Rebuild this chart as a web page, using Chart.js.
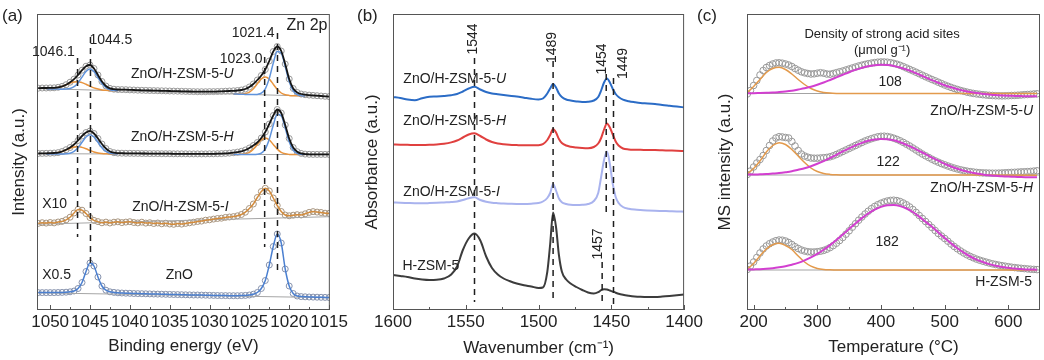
<!DOCTYPE html>
<html>
<head>
<meta charset="utf-8">
<script src="https://cdn.jsdelivr.net/npm/chart.js@4.4.0/dist/chart.umd.min.js"></script>
<style>
  body { margin: 0; background: #fff; width: 1044px; height: 360px; position: relative; overflow: hidden;
         font-family: "Liberation Sans", Arial, sans-serif; }
  canvas { position: absolute; top: 0; }
  .tag { position: absolute; top: 7px; font-size: 17px; line-height: 1; color: #222; }
</style>
</head>
<body>
<canvas id="xps" width="350" height="360" style="left:0"></canvas>
<canvas id="ir" width="360" height="360" style="left:345px"></canvas>
<canvas id="tpd" width="344" height="360" style="left:700px"></canvas>
<div class="tag" style="left:2px">(a)</div>
<div class="tag" style="left:357px">(b)</div>
<div class="tag" style="left:697px">(c)</div>
<script>
// ---------- (a) XPS Zn 2p, stacked spectra (offset intensities) ----------
const bindingEnergy = [
  1051.5, 1051.0, 1050.5, 1050.0, 1049.5, 1049.0, 1048.5, 1048.0, 1047.5, 1047.0,
  1046.5, 1046.0, 1045.5, 1045.0, 1044.5, 1044.0, 1043.5, 1043.0, 1042.5, 1042.0,
  1041.5, 1041.0, 1040.5, 1040.0, 1039.5, 1039.0, 1038.5, 1038.0, 1037.5, 1037.0,
  1036.5, 1036.0, 1035.5, 1035.0, 1034.5, 1034.0, 1033.5, 1033.0, 1032.5, 1032.0,
  1031.5, 1031.0, 1030.5, 1030.0, 1029.5, 1029.0, 1028.5, 1028.0, 1027.5, 1027.0,
  1026.5, 1026.0, 1025.5, 1025.0, 1024.5, 1024.0, 1023.5, 1023.0, 1022.5, 1022.0,
  1021.5, 1021.0, 1020.5, 1020.0, 1019.5, 1019.0, 1018.5, 1018.0, 1017.5, 1017.0,
  1016.5, 1016.0, 1015.5, 1015.0];
const xpsU = [
  221.8, 222.0, 222.0, 222.1, 222.2, 222.7, 223.6, 225.3, 227.8, 230.9,
  235.0, 239.8, 243.8, 245.0, 241.5, 235.0, 228.5, 224.0, 221.6, 220.8,
  220.5, 220.4, 220.3, 220.1, 220.0, 219.8, 219.7, 219.6, 219.5, 219.4,
  219.3, 219.2, 219.1, 219.0, 218.9, 218.8, 218.7, 218.6, 218.5, 218.4,
  218.3, 218.3, 218.3, 218.4, 218.4, 218.5, 218.6, 218.8, 219.0, 219.2,
  219.5, 220.0, 221.0, 223.0, 226.0, 230.0, 234.5, 240.5, 249.0, 258.5,
  263.5, 259.0, 246.0, 231.0, 221.5, 217.5, 216.0, 215.3, 214.9, 214.6,
  214.3, 214.0, 213.7, 213.4];
const xpsH = [
  156.5, 156.6, 156.7, 156.8, 157.0, 157.4, 158.5, 160.3, 162.5, 165.5,
  169.5, 174.0, 177.5, 179.0, 176.5, 171.5, 166.0, 161.5, 158.5, 157.3,
  156.9, 156.8, 156.7, 156.7, 156.6, 156.6, 156.5, 156.5, 156.4, 156.4,
  156.4, 156.3, 156.3, 156.3, 156.2, 156.2, 156.2, 156.2, 156.1, 156.1,
  156.1, 156.1, 156.1, 156.2, 156.2, 156.3, 156.4, 156.6, 156.9, 157.3,
  157.9, 158.7, 160.0, 162.0, 164.5, 167.5, 172.0, 178.0, 186.0, 194.5,
  200.5, 197.0, 185.0, 171.5, 162.5, 158.3, 156.6, 155.9, 155.7, 155.6,
  155.6, 155.6, 155.6, 155.6];
const xpsI = [
  86.6, 87.3, 86.9, 87.5, 87.1, 88.0, 88.6, 90.2, 92.8, 97.0,
  100.6, 99.8, 96.5, 92.4, 89.6, 88.4, 87.2, 87.9, 87.0, 87.8,
  88.2, 87.4, 87.9, 88.3, 87.5, 87.1, 87.8, 86.9, 87.3, 86.5,
  87.0, 86.2, 86.8, 86.0, 85.7, 86.4, 85.9, 86.6, 87.2, 87.8,
  88.5, 88.9, 89.8, 90.2, 90.9, 91.5, 91.8, 92.6, 93.0, 93.4,
  94.2, 95.5, 97.8, 101.5, 106.0, 112.5, 118.5, 121.7, 119.0, 112.0,
  104.5, 98.5, 95.0, 94.2, 94.8, 95.3, 95.0, 96.2, 97.6, 98.4,
  97.9, 97.5, 96.8, 96.6];
const xpsZnO = [
  17.4, 17.4, 17.4, 17.4, 17.4, 17.5, 17.6, 17.8, 18.2, 19.0,
  21.5, 27.5, 38.5, 47.0, 44.0, 33.0, 24.0, 19.8, 18.2, 17.6,
  17.2, 17.0, 16.8, 16.7, 16.5, 16.4, 16.3, 16.2, 16.1, 16.0,
  15.9, 15.8, 15.7, 15.6, 15.5, 15.4, 15.3, 15.2, 15.1, 15.0,
  15.0, 14.9, 14.8, 14.7, 14.6, 14.5, 14.4, 14.4, 14.3, 14.3,
  14.3, 14.4, 14.6, 15.0, 15.8, 17.5, 21.5, 29.5, 45.0, 63.5,
  76.0, 67.0, 41.0, 24.0, 16.5, 14.0, 13.4, 13.2, 13.0, 12.9,
  12.8, 12.7, 12.6, 12.5];

// fitted components (Zn 2p1/2 left, Zn 2p3/2 right)
const compLeftE = [1050.5, 1050.0, 1049.5, 1049.0, 1048.5, 1048.0, 1047.5, 1047.0, 1046.5, 1046.0,
  1045.5, 1045.0, 1044.5, 1044.0, 1043.5, 1043.0, 1042.5, 1042.0, 1041.5];
const uBlueL = [221.2, 221.1, 221.0, 220.9, 220.8, 220.9, 221.5, 223.3, 227.1, 232.9,
  238.6, 241.0, 238.4, 232.5, 226.5, 222.4, 220.3, 219.5, 219.3];
const uOrangeL = [221.3, 221.4, 221.7, 222.4, 223.5, 225.2, 226.9, 228.1, 228.3, 227.4,
  225.7, 223.8, 222.1, 220.9, 220.1, 219.7, 219.5, 219.3, 219.2];
const hBlueL = [156.0, 156.0, 156.0, 156.0, 156.0, 156.2, 156.8, 158.6, 162.3, 167.7,
  173.0, 175.3, 173.0, 167.7, 162.3, 158.6, 156.8, 156.2, 156.0];
const hOrangeL = [156.1, 156.3, 156.6, 157.4, 158.5, 160.1, 161.8, 163.0, 163.4, 162.6,
  161.2, 159.5, 158.0, 157.0, 156.5, 156.2, 156.0, 156.0, 156.0];
const compRightE = [1027.0, 1026.5, 1026.0, 1025.5, 1025.0, 1024.5, 1024.0, 1023.5, 1023.0, 1022.5,
  1022.0, 1021.5, 1021.0, 1020.5, 1020.0, 1019.5, 1019.0, 1018.5, 1018.0];
const uBlueR = [216.0, 215.9, 215.8, 215.6, 215.5, 215.4, 215.6, 216.8, 221.2, 231.6,
  246.9, 258.6, 256.9, 243.4, 228.4, 219.1, 215.4, 214.3, 214.0];
const uOrangeR = [216.0, 215.9, 216.0, 216.5, 217.9, 221.3, 226.2, 231.1, 233.1, 230.9,
  225.8, 220.7, 217.0, 215.3, 214.6, 214.3, 214.2, 214.1, 214.0];
const hBlueR = [155.5, 155.5, 155.5, 155.5, 155.5, 155.5, 155.7, 156.9, 161.0, 170.7,
  184.8, 195.7, 194.3, 182.0, 168.3, 159.8, 156.5, 155.6, 155.4];
const hOrangeR = [155.5, 155.5, 155.7, 156.2, 157.7, 160.9, 165.5, 170.1, 172.1, 170.1,
  165.5, 160.9, 157.7, 156.2, 155.6, 155.4, 155.4, 155.4, 155.4];

// backgrounds
const bgEnds = [1051.65, 1014.9];
const bgU = [221.5, 213.3];
const bgH = [156.3, 155.3];
const bgI = [85.8, 93.3];
const bgZnO = [17.2, 12.3];

// dashed guides at the peak positions
const xpsGuideE = [1046.56, 1044.94, 1023.08, 1021.47];
const xpsGuideTop = [252, 273, 253, 277];
const xpsGuideBottom = [73, 43, 63, 37];
const beMajor = [1050, 1045, 1040, 1035, 1030, 1025, 1020, 1015];
const beMinor = [1047.5, 1042.5, 1037.5, 1032.5, 1027.5, 1022.5, 1017.5];

// ---------- (b) pyridine IR ----------
const wavenumber = [
  1600, 1595, 1590, 1585, 1580, 1575, 1570, 1565, 1560,
  1556, 1552, 1548, 1544, 1540, 1536, 1532, 1528, 1524,
  1520, 1515, 1510, 1505, 1500, 1497, 1494, 1492, 1490,
  1488, 1486, 1484, 1481, 1478, 1474, 1470, 1466, 1462,
  1459, 1457, 1455, 1453, 1451, 1449, 1447, 1445, 1442,
  1438, 1434, 1430, 1425, 1420, 1415, 1410, 1405, 1400];
const irU = [
  213.0, 212.0, 210.5, 209.8, 211.8, 213.2, 213.5, 214.0, 214.8,
  216.0, 218.5, 221.5, 223.3, 220.5, 218.0, 216.5, 215.7, 215.0,
  214.3, 213.4, 212.3, 211.2, 210.6, 211.5, 216.5, 221.5, 226.0,
  222.5, 216.5, 213.0, 210.5, 209.5, 208.6, 208.0, 208.2, 209.5,
  213.0, 219.5, 227.5, 231.5, 227.5, 221.0, 216.0, 213.0, 210.3,
  208.8, 207.8, 207.0, 206.6, 206.0, 205.0, 204.2, 203.4, 202.6];
const irH = [
  165.5, 165.3, 165.2, 165.0, 165.0, 165.2, 165.6, 166.3, 167.6,
  169.5, 172.5, 175.5, 176.7, 174.0, 170.5, 168.0, 166.5, 165.7,
  165.2, 164.9, 164.7, 164.7, 164.8, 165.8, 170.0, 175.0, 181.0,
  177.5, 171.0, 167.0, 164.5, 163.3, 162.5, 162.0, 161.8, 163.0,
  166.5, 172.0, 180.5, 186.5, 182.5, 175.5, 168.5, 164.5, 161.5,
  160.6, 160.3, 160.2, 160.0, 159.9, 159.7, 159.5, 159.3, 159.0];
const irI = [
  107.5, 107.2, 107.0, 106.8, 106.7, 106.9, 107.2, 107.6, 108.0,
  108.6, 110.0, 111.8, 112.7, 110.0, 108.3, 107.3, 106.8, 106.4,
  106.2, 106.0, 106.0, 106.3, 107.0, 108.5, 112.0, 117.0, 126.0,
  119.5, 111.5, 107.8, 106.0, 105.2, 105.0, 105.2, 106.0, 109.0,
  117.0, 133.0, 150.0, 158.5, 146.0, 126.0, 113.0, 107.0, 103.0,
  101.3, 100.4, 99.9, 99.5, 99.2, 99.0, 98.8, 98.6, 98.3];
const irZeo = [
  35.0, 34.0, 33.0, 31.5, 30.5, 30.0, 30.2, 31.5, 35.5,
  43.5, 60.0, 71.5, 76.5, 69.5, 53.5, 42.0, 35.5, 31.5,
  29.0, 26.5, 24.8, 23.5, 22.0, 22.5, 38.0, 66.0, 97.5,
  83.0, 55.0, 38.5, 30.5, 26.5, 23.0, 20.0, 17.5, 16.5,
  17.8, 19.8, 20.8, 20.5, 19.5, 18.5, 17.3, 16.2, 15.2,
  14.3, 13.6, 13.2, 13.0, 13.0, 13.4, 14.0, 14.7, 15.5];
const irGuideW = [1544, 1490, 1453.5, 1448.5, 1456.3];
const irGuideTop = [252, 249, 236, 232, 48];
const irGuideBottom = [8, 9, 95, 2, 8];
const wnMajor = [1600, 1550, 1500, 1450, 1400];
const wnMinor = [1575, 1525, 1475, 1425];

// ---------- (c) NH3-TPD ----------
const temperature = [
  190, 195, 200, 205, 210, 215, 220, 225, 230, 235,
  240, 245, 250, 255, 260, 265, 270, 275, 280, 285,
  290, 295, 300, 305, 310, 315, 320, 325, 330, 335,
  340, 345, 350, 355, 360, 365, 370, 375, 380, 385,
  390, 395, 400, 405, 410, 415, 420, 425, 430, 435,
  440, 445, 450, 455, 460, 465, 470, 475, 480, 485,
  490, 495, 500, 505, 510, 515, 520, 525, 530, 535,
  540, 545, 550, 555, 560, 565, 570, 575, 580, 585,
  590, 595, 600, 605, 610, 615, 620, 625, 630, 635,
  640, 645];
const tpdU = [
  216.0, 219.5, 224.5, 229.5, 235.0, 239.5, 242.5, 244.5, 246.0, 247.0,
  247.2, 246.8, 246.0, 245.0, 243.5, 241.5, 239.8, 238.2, 237.2, 236.5,
  236.0, 236.2, 236.8, 237.3, 236.8, 236.0, 235.8, 236.5, 237.3, 238.2,
  239.0, 240.0, 241.0, 242.0, 243.0, 244.0, 244.8, 245.6, 246.3, 246.9,
  247.4, 247.8, 248.0, 248.0, 247.8, 247.3, 246.6, 245.8, 244.7, 243.4,
  242.0, 240.6, 239.2, 237.8, 236.3, 234.8, 233.3, 231.9, 230.5, 229.2,
  227.8, 226.4, 225.0, 223.8, 222.6, 221.5, 220.5, 219.5, 218.7, 217.9,
  217.2, 216.6, 216.1, 215.7, 215.3, 215.0, 214.7, 214.5, 214.3, 214.2,
  214.1, 214.2, 214.3, 214.5, 214.6, 214.8, 215.0, 215.3, 215.5, 215.7,
  216.0, 216.2];
const tpdH = [
  135.5, 139.0, 143.0, 147.0, 150.5, 154.5, 159.5, 164.5, 169.0, 172.0,
  173.3, 173.0, 172.5, 172.0, 168.5, 164.0, 159.5, 156.0, 154.0, 152.8,
  152.0, 151.8, 151.8, 152.0, 152.3, 152.6, 153.2, 154.2, 155.5, 157.0,
  158.5, 160.0, 161.5, 163.0, 164.5, 166.0, 167.5, 169.0, 170.2, 171.3,
  172.3, 173.2, 173.7, 173.8, 173.5, 172.8, 171.8, 170.6, 169.2, 167.6,
  165.8, 164.0, 162.0, 160.0, 158.0, 156.0, 154.2, 152.5, 150.8, 149.2,
  147.8, 146.4, 145.2, 144.0, 142.9, 141.9, 141.0, 140.2, 139.5, 138.9,
  138.4, 138.0, 137.6, 137.3, 137.1, 137.0, 136.9, 136.8, 136.8, 136.9,
  137.0, 137.2, 137.4, 137.6, 137.7, 137.9, 138.1, 138.2, 138.4, 138.6,
  138.9, 139.2];
const tpdZeo = [
  40.5, 44.0, 48.0, 52.5, 57.0, 61.0, 64.0, 66.3, 68.0, 69.3,
  70.0, 69.8, 69.0, 67.5, 65.5, 63.3, 61.5, 60.0, 59.0, 58.3,
  58.0, 58.0, 58.3, 58.8, 59.6, 60.8, 62.4, 64.4, 66.8, 69.5,
  72.5, 75.8, 79.2, 82.8, 86.3, 89.8, 93.0, 96.0, 98.8, 101.3,
  103.5, 105.3, 106.8, 108.0, 109.0, 109.6, 109.8, 109.4, 108.5, 107.0,
  105.2, 103.0, 100.5, 97.6, 94.5, 91.5, 88.5, 85.5, 82.5, 79.5,
  76.5, 74.0, 71.5, 68.8, 66.0, 63.5, 61.2, 59.0, 57.0, 55.2,
  53.6, 52.2, 50.9, 49.8, 48.8, 47.9, 47.0, 46.2, 45.5, 44.9,
  44.3, 43.8, 43.3, 42.8, 42.4, 42.0, 41.7, 41.4, 41.1, 40.8,
  40.6, 40.4];

// strong-acid (high temperature) fit
const highT = [190, 200, 210, 220, 230, 240, 250, 260, 270, 280,
  290, 300, 310, 320, 330, 340, 350, 360, 370, 380,
  390, 400, 410, 420, 430, 440, 450, 460, 470, 480,
  490, 500, 510, 520, 530, 540, 550, 560, 570, 580,
  590, 600, 610, 620, 630, 640, 645];
const highU = [216.8, 216.8, 217.0, 217.2, 217.4, 217.9, 218.5, 219.3, 220.5, 221.7,
  223.3, 225.3, 227.5, 230.0, 232.6, 235.2, 237.8, 240.1, 242.1, 243.8,
  244.8, 245.2, 245.0, 244.1, 242.5, 240.5, 238.1, 235.4, 232.7, 229.9,
  227.3, 224.8, 222.7, 220.8, 219.2, 217.9, 216.9, 216.1, 215.4, 215.0,
  214.6, 214.3, 214.1, 213.9, 213.7, 213.7, 213.6];
const highH = [135.5, 135.5, 135.7, 135.9, 136.4, 136.9, 137.7, 138.7, 140.2, 141.7,
  143.8, 146.2, 148.9, 152.0, 155.2, 158.6, 161.7, 164.6, 167.1, 169.2,
  170.5, 171.1, 170.7, 169.7, 167.8, 165.2, 162.4, 159.1, 155.8, 152.3,
  149.3, 146.1, 143.5, 141.2, 139.2, 137.7, 136.4, 135.5, 134.7, 134.2,
  133.7, 133.4, 133.2, 132.9, 132.8, 132.7, 132.7];
const highZeo = [40.4, 40.6, 40.8, 41.2, 41.8, 42.7, 43.8, 45.3, 47.1, 49.6,
  52.6, 56.1, 60.2, 64.9, 70.0, 75.4, 81.0, 86.6, 91.9, 96.5,
  100.3, 103.1, 104.7, 104.9, 103.9, 101.5, 98.0, 93.4, 88.2, 83.3,
  77.6, 72.0, 66.6, 61.7, 57.3, 53.5, 50.4, 48.0, 45.9, 44.3,
  43.1, 42.2, 41.4, 41.0, 40.6, 40.4, 40.3];
// weak-acid (low temperature) fit
const lowT = [190, 200, 210, 220, 230, 240, 250, 260, 270, 280,
  290, 300, 310, 320, 330, 340, 350, 360, 370, 380, 645];
const lowU = [217.3, 223.5, 230.5, 237.5, 241.5, 242.7, 240.5, 236.0, 230.5, 225.5,
  221.5, 219.0, 217.6, 216.9, 216.6, 216.5, 216.5, 216.5, 216.5, 216.5, 216.5];
const lowH = [136.2, 141.5, 149.0, 158.0, 164.5, 167.3, 165.5, 160.5, 154.0, 147.5,
  142.0, 138.5, 136.5, 135.6, 135.2, 135.0, 135.0, 135.0, 135.0, 135.0, 134.8];
const lowZeo = [41.0, 46.5, 54.0, 61.0, 65.3, 66.7, 64.5, 60.5, 54.0, 48.0,
  43.8, 41.6, 40.6, 40.2, 40.0, 40.0, 40.0, 40.0, 40.0, 40.0, 40.0];
const baseT = [189.6, 649.7];
const baseU = [216.5, 216.5];
const baseH = [135.0, 135.0];
const baseZeo = [40.0, 40.0];
const tMajor = [200, 300, 400, 500, 600];
const tMinor = [250, 350, 450, 550];

// ---------- helpers ----------
const FAMILY = '"Liberation Sans", Arial, Helvetica, sans-serif';
Chart.defaults.font.family = FAMILY;
Chart.defaults.color = '#222';

const xy = (xs, ys) => xs.map((x, i) => ({x: x, y: ys[i]}));

function rings(xs, ys, color, r) {
  return {data: xy(xs, ys), showLine: false, pointRadius: r, pointBorderWidth: 1,
    pointBorderColor: color, pointBackgroundColor: 'rgba(255,255,255,0)', order: 9};
}
function trace(xs, ys, color, width, order) {
  return {data: xy(xs, ys), borderColor: color, borderWidth: width, pointRadius: 0,
    cubicInterpolationMode: 'monotone', fill: false, order: order};
}
function guides(xs, tops, bottoms) {
  return xs.map((x, i) => ({data: [{x: x, y: tops[i]}, {x: x, y: bottoms[i]}],
    borderColor: '#1e1e1e', borderWidth: 1.5, borderDash: [6, 5], pointRadius: 0, order: -1}));
}

// frame, inward ticks and text notes
function decor(spec) {
  return {
    id: 'decor',
    afterDatasetsDraw(chart) {
      const ctx = chart.ctx, a = chart.chartArea, sx = chart.scales.x, sy = chart.scales.y;
      ctx.save();
      ctx.strokeStyle = '#555';
      ctx.lineWidth = 1;
      ctx.strokeRect(a.left + 0.5, a.top + 0.5, a.right - a.left - 1, a.bottom - a.top - 1);
      ctx.beginPath();
      spec.major.forEach(v => {
        const p = Math.round(sx.getPixelForValue(v)) + 0.5;
        ctx.moveTo(p, a.bottom); ctx.lineTo(p, a.bottom - 5);
      });
      spec.minor.forEach(v => {
        const p = Math.round(sx.getPixelForValue(v)) + 0.5;
        ctx.moveTo(p, a.bottom); ctx.lineTo(p, a.bottom - 3);
      });
      ctx.stroke();

      ctx.fillStyle = '#222';
      ctx.textBaseline = 'middle';
      spec.notes.forEach(n => {
        const px = sx.getPixelForValue(n.x), py = sy.getPixelForValue(n.y);
        const size = n.size || 14;
        const font = size + 'px ' + FAMILY, ifont = 'italic ' + size + 'px ' + FAMILY;
        if (n.rot) {
          ctx.save();
          ctx.translate(px, py);
          ctx.rotate(-Math.PI / 2);
          ctx.font = font;
          ctx.textAlign = 'center';
          ctx.fillText(n.t, 0, 0);
          ctx.restore();
          return;
        }
        ctx.font = font;
        const w1 = ctx.measureText(n.t).width;
        ctx.font = ifont;
        const w2 = n.it ? ctx.measureText(n.it).width : 0;
        let left = px;
        if (n.align === 'right') left = px - w1 - w2;
        if (n.align === 'center') left = px - (w1 + w2) / 2;
        ctx.textAlign = 'left';
        ctx.font = font;
        ctx.fillText(n.t, left, py);
        if (n.it) { ctx.font = ifont; ctx.fillText(n.it, left + w1, py); }
      });
      ctx.restore();
    }
  };
}

function makeChart(id, datasets, o) {
  return new Chart(document.getElementById(id), {
    type: 'line',
    data: {datasets: datasets},
    options: {
      responsive: false, animation: false, events: [],
      layout: {autoPadding: false, padding: {top: 14, right: o.padRight, bottom: 0, left: 0}},
      plugins: {legend: {display: false}, tooltip: {enabled: false}},
      scales: {
        x: {
          type: 'linear', min: o.xMin, max: o.xMax, reverse: o.reverse,
          grid: {display: false, drawTicks: false}, border: {display: false},
          ticks: {stepSize: o.step, includeBounds: false, padding: 2, maxRotation: 0, autoSkip: false,
            font: {size: 17}, color: '#222', callback: v => String(v)},
          title: {display: true, text: o.xTitle, font: {size: 17}, color: '#222',
            padding: {top: 0, bottom: o.xTitlePad}},
          afterFit: s => { s.height = 50; }
        },
        y: {
          type: 'linear', min: 0, max: 296,
          grid: {display: false, drawTicks: false}, border: {display: false},
          ticks: {display: false},
          title: {display: true, text: o.yTitle, font: {size: 17}, color: '#222',
            padding: {top: o.yTitlePad, bottom: 0}},
          afterFit: s => { s.width = o.yWidth; }
        }
      }
    },
    plugins: [decor(o.decor)]
  });
}

// ---------- (a) ----------
const GREY_RING = '#999999';
makeChart('xps', [
  ...guides(xpsGuideE, xpsGuideTop, xpsGuideBottom),
  trace(bindingEnergy, xpsU, '#151515', 1.8, 0),
  trace(bindingEnergy, xpsH, '#151515', 1.8, 0),
  trace(bindingEnergy, xpsI, '#d38b3b', 1.5, 0),
  trace(bindingEnergy, xpsZnO, '#4a7fd0', 1.5, 0),
  trace(compLeftE, uBlueL, '#5f93dc', 1.5, 1),
  trace(compLeftE, uOrangeL, '#e8943e', 1.5, 1),
  trace(compRightE, uBlueR, '#5f93dc', 1.5, 1),
  trace(compRightE, uOrangeR, '#e8943e', 1.5, 1),
  trace(compLeftE, hBlueL, '#5f93dc', 1.5, 1),
  trace(compLeftE, hOrangeL, '#e8943e', 1.5, 1),
  trace(compRightE, hBlueR, '#5f93dc', 1.5, 1),
  trace(compRightE, hOrangeR, '#e8943e', 1.5, 1),
  trace(bgEnds, bgU, '#a6a6a6', 1, 2),
  trace(bgEnds, bgH, '#a6a6a6', 1, 2),
  trace(bgEnds, bgI, '#a6a6a6', 1, 2),
  trace(bgEnds, bgZnO, '#a6a6a6', 1, 2),
  rings(bindingEnergy, xpsU, GREY_RING, 3),
  rings(bindingEnergy, xpsH, GREY_RING, 3),
  rings(bindingEnergy, xpsI, '#a8957f', 3),
  rings(bindingEnergy, xpsZnO, '#8692ad', 3)
], {
  xMin: 1014.9, xMax: 1051.65, reverse: true, step: 5,
  xTitle: 'Binding energy (eV)', xTitlePad: 3.8,
  yTitle: 'Intensity (a.u.)', yTitlePad: 8.8, yWidth: 37, padRight: 17,
  decor: {major: beMajor, minor: beMinor, notes: [
    {t: 'Zn 2p', x: 1015.2, y: 284, align: 'right', size: 16},
    {t: '1046.1', x: 1046.9, y: 258, align: 'right'},
    {t: '1044.5', x: 1045.07, y: 270, align: 'left'},
    {t: '1023.0', x: 1023.35, y: 251, align: 'right'},
    {t: '1021.4', x: 1021.84, y: 277, align: 'right'},
    {t: 'ZnO/H-ZSM-5-', it: 'U', x: 1039.85, y: 236, align: 'left'},
    {t: 'ZnO/H-ZSM-5-', it: 'H', x: 1039.85, y: 173, align: 'left'},
    {t: 'X10', x: 1051.0, y: 106, align: 'left'},
    {t: 'ZnO/H-ZSM-5-', it: 'I', x: 1039.7, y: 102.5, align: 'left'},
    {t: 'X0.5', x: 1051.0, y: 35, align: 'left'},
    {t: 'ZnO', x: 1035.5, y: 35, align: 'left'}
  ]}
});

// ---------- (b) ----------
makeChart('ir', [
  ...guides(irGuideW, irGuideTop, irGuideBottom),
  trace(wavenumber, irU, '#2b6cc6', 2, 0),
  trace(wavenumber, irH, '#e0403f', 2, 0),
  trace(wavenumber, irI, '#a9b3ee', 2, 0),
  trace(wavenumber, irZeo, '#3c3c3c', 2, 0)
], {
  xMin: 1400, xMax: 1600, reverse: true, step: 50,
  xTitle: 'Wavenumber (cm\u207B\u00B9)', xTitlePad: 1,
  yTitle: 'Absorbance (a.u.)', yTitlePad: 17.5, yWidth: 48, padRight: 18,
  decor: {major: wnMajor, minor: wnMinor, notes: [
    {t: 'ZnO/H-ZSM-5-', it: 'U', x: 1592.9, y: 231, align: 'left'},
    {t: 'ZnO/H-ZSM-5-', it: 'H', x: 1592.9, y: 189, align: 'left'},
    {t: 'ZnO/H-ZSM-5-', it: 'I', x: 1592.9, y: 118, align: 'left'},
    {t: 'H-ZSM-5', x: 1593.5, y: 44, align: 'left'},
    {t: '1544', x: 1544.6, y: 271, rot: true},
    {t: '1489', x: 1490.6, y: 262.5, rot: true},
    {t: '1454', x: 1456.0, y: 251, rot: true},
    {t: '1449', x: 1441.9, y: 246.5, rot: true},
    {t: '1457', x: 1459.1, y: 66, rot: true}
  ]}
});

// ---------- (c) ----------
const MAGENTA = '#d23fd0', ORANGE = '#e39a4c', BASE = '#a3a3a3';
makeChart('tpd', [
  trace(highT, highU, MAGENTA, 2, 0),
  trace(highT, highH, MAGENTA, 2, 0),
  trace(highT, highZeo, MAGENTA, 2, 0),
  trace(lowT, lowU, ORANGE, 1.5, 1),
  trace(lowT, lowH, ORANGE, 1.5, 1),
  trace(lowT, lowZeo, ORANGE, 1.5, 1),
  trace(baseT, baseU, BASE, 1, 2),
  trace(baseT, baseH, BASE, 1, 2),
  trace(baseT, baseZeo, BASE, 1, 2),
  rings(temperature, tpdU, GREY_RING, 3.3),
  rings(temperature, tpdH, GREY_RING, 3.3),
  rings(temperature, tpdZeo, GREY_RING, 3.3)
], {
  xMin: 189.6, xMax: 649.7, reverse: false, step: 100,
  xTitle: 'Temperature (\u00B0C)', xTitlePad: 2.8,
  yTitle: 'MS intensity (a.u.)', yTitlePad: 14.8, yWidth: 47, padRight: 4,
  decor: {major: tMajor, minor: tMinor, notes: [
    {t: 'Density of strong acid sites', x: 401.8, y: 276, align: 'center', size: 13},
    {t: '(\u03BCmol g\u207B\u00B9)', x: 401.8, y: 260, align: 'center', size: 13},
    {t: '108', x: 414.4, y: 228, align: 'center'},
    {t: '122', x: 411.3, y: 148, align: 'center'},
    {t: '182', x: 409.7, y: 68, align: 'center'},
    {t: 'ZnO/H-ZSM-5-', it: 'U', x: 638.7, y: 199, align: 'right'},
    {t: 'ZnO/H-ZSM-5-', it: 'H', x: 638.7, y: 122, align: 'right'},
    {t: 'H-ZSM-5', x: 637.2, y: 28, align: 'right'}
  ]}
});
</script>
</body>
</html>
